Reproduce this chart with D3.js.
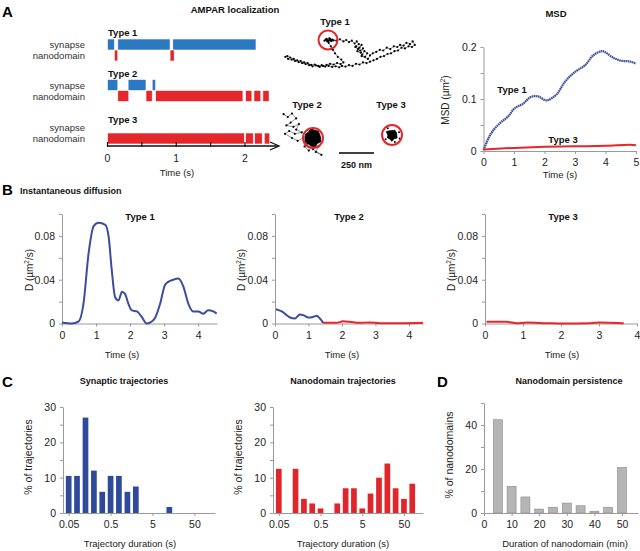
<!DOCTYPE html>
<html><head><meta charset="utf-8">
<script src="https://cdn.jsdelivr.net/npm/d3@7"></script>
<style>body{margin:0;background:#fff}svg{display:block}</style>
</head><body><svg id="c" width="640" height="551"></svg>
<script>
// ---------- DATA ----------
// Panel A timeline segments [start, end] in s
const type1Synapse = [[0,0.1],[0.15,0.91],[0.95,2.16]];
const type1Nano = [[0.1,0.15],[0.91,0.97]];
const type2Synapse = [[0,0.15],[0.3,0.56],[0.65,0.7]];
const type2Nano = [[0.15,0.31],[0.56,0.65],[0.7,1.97],[2.01,2.1],[2.13,2.23],[2.26,2.35]];
const type3Synapse = [];
const type3Nano = [[0,1.99],[2.01,2.12],[2.14,2.25],[2.28,2.36]];
const timelineTicks = [0,0.5,1,1.5,2];
const timelineLabels = [0,1,2];

// Trajectories (nm, relative to red circle centre)
const traj1 = [[-25,5],[-10,-8],[5,3],[15,-6],[-5,10],[20,4],[30,-3],[10,-12],[-15,-2],[0,6],[25,8],[40,2],
  [60,5],[85,-5],[110,10],[130,0],[150,15],[170,5],[190,25],[205,10],[220,30],[200,45],[225,55],[240,35],[215,65],[195,50],[230,75],[250,60],[235,90],[210,80],[245,105],[260,80],[280,95],[265,120],[240,115],[285,135],[300,110],[320,95],
  [345,85],[370,70],[395,75],[420,55],[445,65],[470,45],[495,50],[515,35],[540,40],[560,20],[585,30],[605,10],[620,35],[600,50],[575,45],[550,60],[525,55],[500,75],[475,80],[450,95],[425,100],[400,115],[375,120],[350,135],[325,145],[300,155],
  [275,165],[250,160],[225,175],[200,170],[175,185],[150,180],[125,190],[100,185],[80,195],[55,188],[30,192],[5,185],[-20,190],[-45,180],[-70,185],[-95,175],[-120,178],[-145,165],[-170,160],[-195,150],[-220,145],[-245,135],[-270,125],[-290,115],[-305,120],[-285,135],[-260,140],[-235,150],[-210,158],[-185,165],[-160,172],[-135,180],[-110,188],[-85,182],[-60,192],[-35,185],[-10,178],[15,170],[40,175],[65,165],[90,172],[110,160],[95,140],[70,120],[50,95],[35,70],[20,45],[5,20],[-5,5]];
const traj2 = [[-210,-170],[-180,-150],[-150,-175],[-120,-140],[-160,-110],[-190,-90],[-140,-80],[-100,-100],[-120,-60],[-80,-40],[-130,-30],[-170,-50],[-200,-30],[-150,0],[-110,20],[-70,0],[-40,-20],[-20,10],[30,-30],[50,20],[-10,50],[40,60],[20,100],[60,120],[0,80],[-40,40],[-60,60],[-30,90],[10,30],[0,0]];
const blob2Radii = [55,62,50,66,58,52,64,57,60,53,68,56,61,54];
const blob3Radii = [34,42,30,45,33,38,29,47,35,31,40,36];
const blob3Spikes = [[50,-20],[-45,30],[20,50],[-30,-48],[55,25]];

// MSD
const msdType1 = [[0,0.002],[0.25,0.034],[0.53,0.053],[0.8,0.066],[1.02,0.082],[1.3,0.091],[1.55,0.104],[1.79,0.105],[2.01,0.098],[2.12,0.098],[2.4,0.109],[2.67,0.133],[3.0,0.152],[3.33,0.165],[3.6,0.184],[3.88,0.192],[3.99,0.19],[4.21,0.181],[4.48,0.174],[4.81,0.172],[5.0,0.168]];
const msdType3 = [[0,0.003],[1,0.006],[2,0.008],[3,0.009],[4,0.01],[4.8,0.012],[5,0.011]];
const msdYTicks = [0,0.05,0.1,0.15,0.2];
const msdYLabels = [0,0.1,0.2];
const msdXTicks = [0,1,2,3,4,5];

// Instantaneous diffusion
const diffType1 = [[0,0.001],[0.29,0],[0.49,0.002],[0.63,0.018],[0.78,0.064],[0.93,0.089],[1.07,0.092],[1.27,0.09],[1.37,0.079],[1.46,0.049],[1.56,0.024],[1.66,0.021],[1.76,0.029],[1.85,0.027],[1.95,0.018],[2.05,0.012],[2.2,0.011],[2.34,0.006],[2.49,0],[2.59,0.001],[2.73,0.005],[2.88,0.018],[3.02,0.035],[3.12,0.038],[3.27,0.04],[3.41,0.041],[3.56,0.034],[3.71,0.018],[3.85,0.011],[4.0,0.011],[4.15,0.009],[4.29,0.012],[4.44,0.011],[4.54,0.009]];
const diffType2Syn = [[0.03,0.013],[0.2,0.011],[0.45,0.0055],[0.6,0.0046],[0.74,0.0083],[0.89,0.007],[0.99,0.0055],[1.14,0.006],[1.24,0.007],[1.34,0.0046],[1.44,0.0006]];
const diffType2Nano = [[1.44,0.0006],[1.84,0.0006],[2.03,0.002],[2.23,0.0015],[2.53,0.0006],[2.83,0.001],[3.13,0.0003],[3.82,0.0003],[4.42,0.0006]];
const diffType3Nano = [[0.04,0.0015],[0.57,0.0015],[0.84,0.0003],[1.1,0.0008],[1.63,0.0003],[2.07,0],[2.77,0.0003],[3.03,0.001],[3.65,0.0003]];
const diffYTicks = [0,0.02,0.04,0.06,0.08,0.1];
const diffYLabels = [0,0.04,0.08];

// Histograms
const durationBins = [0.05,0.079,0.126,0.2,0.316,0.5,0.79,1.26,2,3.16,5,7.9,12.6,20,31.6,50,79];
const synapticPct = [10.5,10.5,27,12,6,10.5,10.5,6,7.5,0,0,0,1.7,0,0,0,0];
const nanodomainPct = [12.5,0,12.5,4,2.7,1.3,0,2.7,7,7,1.3,5.5,10,14,7,4,8.3];
const durationTicks = [0.05,0.5,5,50];
const pctTicks = [0,5,10,15,20,25,30];
const pctLabels = [0,10,20,30];

const persistenceMin = [5,10,15,20,25,30,35,40,45,50];
const persistencePct = [42.4,12.1,7.3,1.8,2.6,4.5,3.3,0.8,2.6,20.7];
const persistYTicks = [0,10,20,30,40,50];
const persistYLabels = [0,20,40];
const persistXTicks = [0,10,20,30,40,50];

// ---------- STYLE ----------
const FONT = "'Liberation Sans', Arial, sans-serif";
const BLUE_BAR = "#2b78c2", RED = "#e5262b", BLUE_LINE = "#3b4d9e", HIST_BLUE = "#2f4a9a", GRAY = "#b5b5b5", AXIS = "#9a9a9a";

const svg = d3.select("#c");
svg.append("rect").attr("width",640).attr("height",551).attr("fill","#fff");

function txt(x, y, s, o = {}) {
  return svg.append("text").attr("x", x).attr("y", y).text(s)
    .attr("font-family", FONT).attr("font-size", o.size || 10)
    .attr("font-weight", o.bold ? "bold" : "normal")
    .attr("fill", o.fill || "#222")
    .attr("text-anchor", o.anchor || "start");
}
function rotLabel(x, y, parts, size = 10) {
  const t = svg.append("text").attr("transform", `translate(${x},${y}) rotate(-90)`)
    .attr("text-anchor", "middle").attr("font-family", FONT).attr("font-size", size).attr("fill", "#222");
  parts.forEach(p => {
    const ts = t.append("tspan").text(p.t);
    if (p.sup) ts.attr("font-size", size * 0.65).attr("dy", -4);
    if (p.down) ts.attr("dy", 4);
  });
  return t;
}
function styleAxis(a, fs = 10) {
  a.select(".domain").attr("stroke", AXIS);
  a.selectAll(".tick line").attr("stroke", AXIS);
  a.selectAll(".tick text").attr("font-family", FONT).attr("font-size", fs).attr("fill", "#222");
}
function yAxis(scale, x, vals, labels, fmt = String) {
  const ax = d3.axisLeft(scale).tickValues(vals).tickSize(3).tickSizeOuter(0).tickPadding(4)
    .tickFormat(d => labels.includes(d) ? fmt(d) : "");
  const a = svg.append("g").attr("transform", `translate(${x},0)`).call(ax);
  styleAxis(a, 10.5);
  return a;
}
function xAxis(scale, y, vals, labels, fmt = String) {
  const ax = d3.axisBottom(scale).tickValues(vals).tickSize(3).tickSizeOuter(0).tickPadding(5)
    .tickFormat(d => labels.includes(d) ? fmt(d) : "");
  const a = svg.append("g").attr("transform", `translate(0,${y})`).call(ax);
  styleAxis(a, 10.5);
  return a;
}

// ---------- PANEL A: timeline ----------
txt(2, 17, "A", {size: 15, bold: true, fill: "#000"});
txt(235, 13, "AMPAR localization", {size: 9.5, bold: true, anchor: "middle", fill: "#111"});

const xT = d3.scaleLinear().domain([0, 2]).range([107.5, 245]);
const rows = [
  {name: "Type 1", top: 39, lab: 36, syn: type1Synapse, nano: type1Nano},
  {name: "Type 2", top: 79.5, lab: 77, syn: type2Synapse, nano: type2Nano},
  {name: "Type 3", top: 122, lab: 123, syn: type3Synapse, nano: type3Nano}
];
const bandH = 11;
rows.forEach(r => {
  txt(108, r.lab, r.name, {size: 9.5, bold: true, fill: "#111"});
  txt(85, r.top + bandH / 2 + 3.5, "synapse", {size: 9.5, anchor: "end", fill: "#333"});
  txt(85, r.top + bandH * 1.5 + 3.5, "nanodomain", {size: 9.5, anchor: "end", fill: "#333"});
  svg.append("g").selectAll("rect").data(r.syn).join("rect")
    .attr("x", d => xT(d[0])).attr("width", d => xT(d[1]) - xT(d[0]))
    .attr("y", r.top).attr("height", bandH).attr("fill", BLUE_BAR)
    .attr("stroke", "#fff").attr("stroke-width", 0.6);
  svg.append("g").selectAll("rect").data(r.nano).join("rect")
    .attr("x", d => xT(d[0])).attr("width", d => xT(d[1]) - xT(d[0]))
    .attr("y", r.top + bandH).attr("height", bandH).attr("fill", RED)
    .attr("stroke", "#fff").attr("stroke-width", 0.6);
});
const axY = 146;
svg.append("line").attr("x1", xT(0)).attr("x2", 278).attr("y1", axY).attr("y2", axY).attr("stroke", "#111").attr("stroke-width", 1.4);
svg.append("path").attr("d", `M270,${axY - 4} L279,${axY} L270,${axY + 4}`).attr("fill", "none").attr("stroke", "#111").attr("stroke-width", 1.3);
svg.append("g").selectAll("line").data(timelineTicks).join("line")
  .attr("x1", d => xT(d)).attr("x2", d => xT(d)).attr("y1", axY - 4).attr("y2", axY + 1)
  .attr("stroke", "#111").attr("stroke-width", 1.2);
svg.append("g").selectAll("text").data(timelineLabels).join("text")
  .attr("x", d => xT(d)).attr("y", 162).text(d => d)
  .attr("text-anchor", "middle").attr("font-family", FONT).attr("font-size", 10.5).attr("fill", "#222");
txt(177, 176, "Time (s)", {size: 9.5, anchor: "middle"});

// ---------- PANEL A: trajectories ----------
const nm = d3.scaleLinear().domain([0, 250]).range([0, 35]);
function drawTraj(cx, cy, pts) {
  const line = d3.line().x(d => cx + nm(d[0])).y(d => cy + nm(d[1]));
  svg.append("path").attr("d", line(pts)).attr("fill", "none").attr("stroke", "#222").attr("stroke-width", 0.5);
  svg.append("g").selectAll("circle").data(pts).join("circle")
    .attr("cx", d => cx + nm(d[0])).attr("cy", d => cy + nm(d[1])).attr("r", 1.1).attr("fill", "#000");
}
function drawBlob(cx, cy, radii) {
  const n = radii.length;
  const pts = radii.map((r, i) => [cx + nm(r) * Math.cos(2 * Math.PI * i / n), cy + nm(r) * Math.sin(2 * Math.PI * i / n)]);
  svg.append("path").attr("d", d3.line().curve(d3.curveLinearClosed)(pts)).attr("fill", "#000").attr("stroke", "#000").attr("stroke-width", 0.8);
}
const c1 = [328, 40], c2 = [313, 138], c3 = [392, 135];
drawTraj(c1[0], c1[1], traj1);
svg.append("circle").attr("cx", c1[0]).attr("cy", c1[1]).attr("r", 9.5).attr("fill", "none").attr("stroke", RED).attr("stroke-width", 2);
txt(335, 25, "Type 1", {size: 9.5, bold: true, anchor: "middle", fill: "#111"});
drawTraj(c2[0], c2[1], traj2);
drawBlob(c2[0], c2[1], blob2Radii);
svg.append("circle").attr("cx", c2[0]).attr("cy", c2[1]).attr("r", 10).attr("fill", "none").attr("stroke", RED).attr("stroke-width", 2);
txt(307, 108, "Type 2", {size: 9.5, bold: true, anchor: "middle", fill: "#111"});
drawBlob(c3[0], c3[1], blob3Radii);
svg.append("g").selectAll("circle").data(blob3Spikes).join("circle")
  .attr("cx", d => c3[0] + nm(d[0])).attr("cy", d => c3[1] + nm(d[1])).attr("r", 1).attr("fill", "#000");
svg.append("circle").attr("cx", c3[0]).attr("cy", c3[1]).attr("r", 10).attr("fill", "none").attr("stroke", RED).attr("stroke-width", 2);
txt(391, 108, "Type 3", {size: 9.5, bold: true, anchor: "middle", fill: "#111"});
svg.append("line").attr("x1", 339).attr("x2", 339 + nm(250)).attr("y1", 153).attr("y2", 153).attr("stroke", "#000").attr("stroke-width", 1.5);
txt(339 + nm(125), 168, "250 nm", {size: 9, bold: true, anchor: "middle", fill: "#111"});

// ---------- PANEL A: MSD ----------
txt(556, 17, "MSD", {size: 9.5, bold: true, anchor: "middle", fill: "#111"});
const xM = d3.scaleLinear().domain([0, 5]).range([483.5, 636]);
const yM = d3.scaleLinear().domain([0, 0.2]).range([151, 47]);
yAxis(yM, 483.5, msdYTicks, msdYLabels);
xAxis(xM, 151, msdXTicks, msdXTicks);
rotLabel(449, 100, [{t: "MSD (µm"}, {t: "2", sup: true}, {t: ")", down: true}]);
txt(560, 178, "Time (s)", {size: 9.5, anchor: "middle"});
const lineM = d3.line().x(d => xM(d[0])).y(d => yM(d[1])).curve(d3.curveCatmullRom);
svg.append("path").attr("d", lineM(msdType1)).attr("fill", "none").attr("stroke", BLUE_LINE).attr("stroke-width", 2.2).attr("stroke-dasharray", "1.6,0.5");
svg.append("path").attr("d", lineM(msdType3)).attr("fill", "none").attr("stroke", RED).attr("stroke-width", 2);
txt(512, 93, "Type 1", {size: 9.5, bold: true, anchor: "middle", fill: "#111"});
txt(563, 143, "Type 3", {size: 9.5, bold: true, anchor: "middle", fill: "#111"});

// ---------- PANEL B ----------
txt(2, 195, "B", {size: 15, bold: true, fill: "#000"});
txt(20, 194, "Instantaneous diffusion", {size: 9, bold: true, fill: "#111"});
const bPanels = [
  {x0: 62, x1: 217, dmax: 4.55, xt: [0,1,2,3,4], ylab: 33, tx: 122, title: "Type 1", titleX: 140, series: [[diffType1, BLUE_LINE]]},
  {x0: 275, x1: 423, dmax: 4.42, xt: [0,1,2,3,4], ylab: 245, tx: 342, title: "Type 2", titleX: 349, series: [[diffType2Syn, BLUE_LINE], [diffType2Nano, RED]]},
  {x0: 485, x1: 637, dmax: 4.0, xt: [0,1,2,3,4], ylab: 455, tx: 562, title: "Type 3", titleX: 563, series: [[diffType3Nano, RED]]}
];
const yB = d3.scaleLinear().domain([0, 0.1]).range([323.5, 214]);
bPanels.forEach(p => {
  const xB = d3.scaleLinear().domain([0, p.dmax]).range([p.x0, p.x1]);
  yAxis(yB, p.x0, diffYTicks, diffYLabels);
  xAxis(xB, 323.5, p.xt, p.xt);
  rotLabel(p.ylab, 270, [{t: "D (µm"}, {t: "2", sup: true}, {t: "/s)", down: true}]);
  txt(p.tx, 358, "Time (s)", {size: 9.5, anchor: "middle"});
  txt(p.titleX, 220, p.title, {size: 9.5, bold: true, anchor: "middle", fill: "#111"});
  const ln = d3.line().x(d => xB(d[0])).y(d => yB(d[1])).curve(d3.curveMonotoneX);
  p.series.forEach(([data, col]) => {
    svg.append("path").attr("d", ln(data)).attr("fill", "none").attr("stroke", col).attr("stroke-width", 2);
  });
});

// ---------- PANEL C ----------
txt(2, 387, "C", {size: 15, bold: true, fill: "#000"});
const yC = d3.scaleLinear().domain([0, 30]).range([513, 407]);
const cPanels = [
  {ax: 63, x0: 0.0366, x1: 155, r0: 63, r1: 215, data: synapticPct, col: HIST_BLUE, title: "Synaptic trajectories", tx: 124, lx: 130, ylab: 32},
  {ax: 273, x0: 0.0363, x1: 143, r0: 273, r1: 423, data: nanodomainPct, col: "#e0262b", title: "Nanodomain trajectories", tx: 343, lx: 343, ylab: 242}
];
cPanels.forEach(p => {
  const xC = d3.scaleLog().domain([p.x0, p.x1]).range([p.r0, p.r1]);
  const bw = 5.7;
  svg.append("g").selectAll("rect").data(durationBins.map((b, i) => [b, p.data[i]]).filter(d => d[1] > 0)).join("rect")
    .attr("x", d => xC(d[0]) - bw / 2).attr("width", bw)
    .attr("y", d => yC(d[1])).attr("height", d => yC(0) - yC(d[1]))
    .attr("fill", p.col);
  yAxis(yC, p.ax, pctTicks, pctLabels);
  xAxis(xC, 513, durationTicks, durationTicks);
  rotLabel(p.ylab, 457, [{t: "% of trajectories"}], 10.5);
  txt(p.tx, 384, p.title, {size: 9, bold: true, anchor: "middle", fill: "#111"});
  txt(p.lx, 547, "Trajectory duration (s)", {size: 9.5, anchor: "middle"});
});

// ---------- PANEL D ----------
txt(437, 387, "D", {size: 15, bold: true, fill: "#000"});
txt(569, 384, "Nanodomain persistence", {size: 9, bold: true, anchor: "middle", fill: "#111"});
const xD = d3.scaleLinear().domain([0, 55.8]).range([484, 638]);
const yD = d3.scaleLinear().domain([0, 50]).range([513, 403]);
svg.append("g").selectAll("rect").data(persistenceMin.map((m, i) => [m, persistencePct[i]])).join("rect")
  .attr("x", d => xD(d[0]) - 4.5).attr("width", 9)
  .attr("y", d => yD(d[1])).attr("height", d => yD(0) - yD(d[1]))
  .attr("fill", GRAY).attr("stroke", "#8a8a8a").attr("stroke-width", 0.6);
yAxis(yD, 484, persistYTicks, persistYLabels);
xAxis(xD, 513, persistXTicks, persistXTicks);
rotLabel(453, 455, [{t: "% of nanodomains"}], 10.5);
txt(565, 547, "Duration of nanodomain (min)", {size: 9.5, anchor: "middle"});
</script>
</body></html>
